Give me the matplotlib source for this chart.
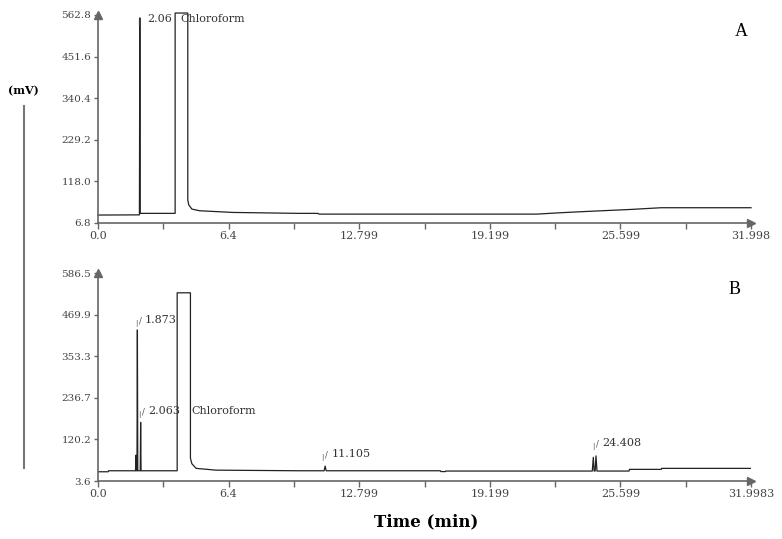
import matplotlib
matplotlib.use("Agg")
from matplotlib import pyplot as plt
from matplotlib.lines import Line2D

# chromatogram A (time in min, signal in mV)
time_a = [0.0, 2.03, 2.05, 2.07, 3.78, 3.78, 4.40, 4.40, 4.45, 4.60, 4.98, 6.60,
          9.85, 10.78, 10.83, 21.50, 22.60, 23.70, 26.10, 27.60, 31.998]
sig_a = [28.0, 28.5, 555.0, 32.5, 32.5, 568.0, 568.0, 68.0, 55.0, 44.0, 39.5, 35.0,
         32.5, 32.5, 30.5, 30.5, 34.0, 37.0, 43.0, 47.6, 47.6]

# chromatogram B
time_b = [0.00, 0.50, 0.52, 1.84, 1.86, 1.88, 1.91, 1.93, 1.95, 2.07, 2.09, 2.11,
          3.88, 3.88, 4.53, 4.53, 4.60, 4.81, 5.78, 9.85, 11.08, 11.13, 11.18,
          16.78, 16.80, 17.02, 17.04, 24.22, 24.27, 24.31, 24.36, 24.40, 24.45,
          26.02, 26.04, 27.60, 27.62, 31.998]
sig_b = [29.5, 29.5, 32.3, 32.3, 76.0, 32.3, 32.3, 427.0, 32.3, 32.3, 168.0, 32.3,
         32.3, 531.0, 531.0, 67.8, 52.0, 39.0, 34.0, 32.3, 32.3, 45.4, 32.3,
         32.3, 30.0, 30.0, 31.5, 31.5, 70.0, 31.5, 31.5, 74.0, 31.5,
         31.5, 36.2, 36.2, 39.0, 39.0]

x_major = [0.0, 6.4, 12.799, 19.199, 25.599, 31.998]
x_labels_a = ['0.0', '6.4', '12.799', '19.199', '25.599', '31.998']
x_labels_b = ['0.0', '6.4', '12.799', '19.199', '25.599', '31.9983']
x_minor = [3.2, 9.6, 16.0, 22.4, 28.8]

y_ticks_a = [6.8, 118.0, 229.2, 340.4, 451.6, 562.8]
y_ticks_b = [3.6, 120.2, 236.7, 353.3, 469.9, 586.5]

# peak labels: (text, time, mV)
peaks_a = [('2.06', 2.4, 551.0), ('Chloroform', 4.05, 551.0)]
peaks_b = [('1.873', 2.3, 455.0), ('2.063', 2.45, 199.0), ('Chloroform', 4.6, 199.0),
           ('11.105', 11.45, 79.0), ('24.408', 24.7, 110.0)]

AX_COL = '#666666'
TXT_COL = '#444444'
SERIF = 'DejaVu Serif'

fig = plt.figure(figsize=(7.82, 5.39), dpi=100)


def setup(ax, yticks, xlabels):
    ax.set_xlim(0, 31.998)
    ax.set_ylim(yticks[0], yticks[-1])
    for s in ['top', 'right']:
        ax.spines[s].set_visible(False)
    for s in ['left', 'bottom']:
        ax.spines[s].set_color(AX_COL)
        ax.spines[s].set_linewidth(1.2)
    ax.set_xticks(x_major)
    ax.set_xticklabels(xlabels, fontfamily=SERIF, fontsize=8, color=TXT_COL)
    ax.set_xticks(x_minor, minor=True)
    ax.set_yticks(yticks)
    ax.set_yticklabels(['%.1f' % v for v in yticks], fontfamily=SERIF, fontsize=7.5,
                       color=TXT_COL)
    ax.tick_params(axis='x', which='both', direction='out', length=4, width=1,
                   color=AX_COL, pad=2)
    ax.tick_params(axis='y', direction='out', length=3, width=1, color=AX_COL, pad=2)
    # arrow heads at the end of the axes
    ax.plot(1, 0, '>', color=AX_COL, markersize=6, transform=ax.transAxes, clip_on=False)
    ax.plot(0, 1, '^', color=AX_COL, markersize=6, transform=ax.transAxes, clip_on=False)


def label_peaks(ax, peaks, slash):
    for txt, t, v in peaks:
        ax.text(t, v, txt, fontfamily=SERIF, fontsize=8, color='#333333',
                ha='left', va='center')
        if txt == 'Chloroform':
            continue
        # little peak marker: short bar and a slash leading to the label
        ax.annotate('|', (t, v), xytext=(-6.5, -2.5), textcoords='offset points',
                    fontsize=5, color='#555555', ha='center', va='center')
        if slash:
            ax.annotate('/', (t, v), xytext=(-3.5, -0.5), textcoords='offset points',
                        fontsize=6, color='#555555', ha='center', va='center')


ax_a = fig.add_axes([0.1253, 0.5863, 0.8351, 0.3859])
ax_a.plot(time_a, sig_a, color='#222222', lw=0.9, clip_on=False)
setup(ax_a, y_ticks_a, x_labels_a)
label_peaks(ax_a, peaks_a, False)
ax_a.text(0.985, 0.92, 'A', transform=ax_a.transAxes, fontfamily='Liberation Serif',
          fontsize=13, ha='center', va='center')

ax_b = fig.add_axes([0.1253, 0.1076, 0.8351, 0.3859])
ax_b.plot(time_b, sig_b, color='#222222', lw=0.9)
setup(ax_b, y_ticks_b, x_labels_b)
label_peaks(ax_b, peaks_b, True)
ax_b.text(0.975, 0.92, 'B', transform=ax_b.transAxes, fontfamily='Liberation Serif',
          fontsize=13, ha='center', va='center')

fig.text(0.030, 0.832, '(mV)', fontfamily=SERIF, fontweight='bold', fontsize=8,
         ha='center', va='center')
fig.add_artist(Line2D([0.031, 0.031], [1 - 106 / 539, 1 - 468 / 539],
                      transform=fig.transFigure, color='#777777', lw=1.5))
fig.text(0.545, 0.032, 'Time (min)', fontfamily=SERIF, fontweight='bold', fontsize=12,
         ha='center', va='center')

fig.savefig('out.png', dpi=100)
